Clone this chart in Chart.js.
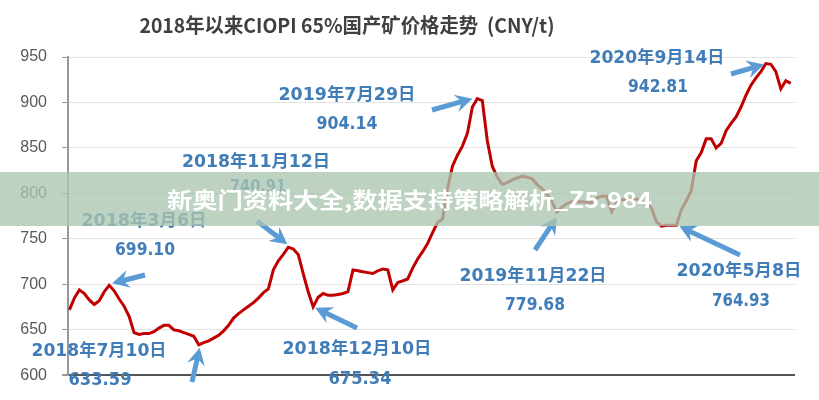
<!DOCTYPE html>
<html>
<head>
<meta charset="utf-8">
<script src="https://cdn.jsdelivr.net/npm/chart.js@4.4.1/dist/chart.umd.min.js"></script>
<style>
  html, body { margin: 0; padding: 0; background: #fff; }
  canvas { display: block; }
</style>
</head>
<body>
<canvas id="priceChart" width="819" height="400"></canvas>
<script>
const titleText = '2018年以来CIOPI 65%国产矿价格走势  (CNY/t)';
const bannerText = '新奥门资料大全,数据支持策略解析_Z5.984';

// weekly CIOPI 65% price, Jan 2018 - Oct 2020
const prices = [
    672, 685, 694, 690, 683, 678, 682, 692, 699.10, 693,
    684, 676, 665, 647, 645, 646, 646, 648, 652, 655,
    655, 650, 649, 647, 645, 643, 633.59, 636, 638, 641,
    644, 649, 655, 663, 668, 672, 676, 680, 685, 691,
    695, 716, 726, 733, 740.91, 739, 733, 712, 692, 675.34,
    686, 690, 688, 688, 689, 690, 692, 716, 715, 714,
    713, 712, 715, 717, 716, 694, 702, 704, 706, 718,
    728, 736, 745, 757, 768, 772, 805, 830, 842, 852,
    866, 895, 904.14, 902, 858, 830, 818, 810, 812, 815,
    817, 819, 818, 816, 810, 805, 799, 791, 779.68, 785,
    789, 791, 791, 791, 790, 790, 795, 797, 797, 780,
    790, 793, 794, 794, 794, 791, 789, 784, 769, 764,
    765, 765, 764.93, 782, 792, 803, 836, 845, 860, 860,
    850, 855, 869, 877, 884, 895, 908, 919, 927, 934,
    942.81, 942, 934, 915, 924, 921
];

// annotated points (week index, date, value)
const noteIdx = [8, 26, 44, 49, 82, 98, 122, 140];
const noteDates = ['2018年3月6日', '2018年7月10日', '2018年11月12日', '2018年12月10日',
    '2019年7月29日', '2019年11月22日', '2020年5月8日', '2020年9月14日'];
const noteVals = ['699.10', '633.59', '740.91', '675.34', '904.14', '779.68', '764.93', '942.81'];

// label placement: [dateCx, dateCy, dateW, valCx, valCy, valW, tailX, tailY, tipDx, tipDy]
const noteLayout = [
    [144, 222, 125, 145, 251, 60, 145, 275, 3, -2],
    [99, 352, 135, 100, 381, 63, 192, 382, 1, 3],
    [256, 163, 148, 258, 188, 56, 257, 221, -1, -3],
    [357, 350, 149, 360, 380, 63, 357, 328, 2, 1],
    [347, 96, 137, 347, 125, 61, 432, 110, -5, 0],
    [533, 277, 147, 535, 306, 60, 535, 250, 0, 5],
    [739, 272, 125, 741, 302, 58, 740, 255, 3, 1],
    [657, 59, 135, 658, 88, 60, 731, 74, -2, 1]
];

function fitText(ctx, text, cx, cy, width) {
    const w = ctx.measureText(text).width;
    ctx.save();
    ctx.translate(cx, cy);
    ctx.scale(width / w, 1);
    ctx.fillText(text, 0, 0);
    ctx.restore();
}

function drawArrow(ctx, x0, y0, x1, y1) {
    const a = Math.atan2(y1 - y0, x1 - x0);
    const c = Math.cos(a), s = Math.sin(a);
    const hl = 17, hw = 9;
    ctx.strokeStyle = '#5b9bd5';
    ctx.fillStyle = '#5b9bd5';
    ctx.lineWidth = 5;
    ctx.beginPath();
    ctx.moveTo(x0, y0);
    ctx.lineTo(x1 - c * hl * 0.6, y1 - s * hl * 0.6);
    ctx.stroke();
    ctx.beginPath();
    ctx.moveTo(x1, y1);
    ctx.lineTo(x1 - c * hl - s * hw, y1 - s * hl + c * hw);
    ctx.lineTo(x1 - c * hl * 0.65, y1 - s * hl * 0.65);
    ctx.lineTo(x1 - c * hl + s * hw, y1 - s * hl - c * hw);
    ctx.closePath();
    ctx.fill();
}

const overlayPlugin = {
    id: 'overlay',
    afterDatasetsDraw(chart) {
        const ctx = chart.ctx;
        const xs = chart.scales.x, ys = chart.scales.y;
        ctx.save();
        ctx.textAlign = 'center';
        ctx.textBaseline = 'middle';

        noteIdx.forEach((idx, i) => {
            const L = noteLayout[i];
            const px = xs.getPixelForValue(idx);
            const py = ys.getPixelForValue(prices[idx]);
            drawArrow(ctx, L[6], L[7], px + L[8], py + L[9]);

            ctx.fillStyle = '#3f7cb8';
            ctx.font = 'bold 17px "DejaVu Sans", "Noto Sans CJK SC", sans-serif';
            fitText(ctx, noteDates[i], L[0], L[1], L[2]);
            fitText(ctx, noteVals[i], L[3], L[4], L[5]);
        });

        // watermark banner
        ctx.fillStyle = 'rgba(170, 197, 176, 0.78)';
        ctx.fillRect(0, 172, 819, 54);
        ctx.fillStyle = '#ffffff';
        ctx.textAlign = 'left';
        ctx.font = 'bold 22px "Noto Sans CJK SC", sans-serif';
        const bw = ctx.measureText(bannerText).width;
        ctx.save();
        ctx.translate(167, 200);
        ctx.scale(485 / bw, 1);
        ctx.fillText(bannerText, 0, 0);
        ctx.restore();

        // title
        ctx.textAlign = 'center';
        ctx.fillStyle = '#404040';
        ctx.font = 'bold 20px "Noto Sans CJK SC", sans-serif';
        fitText(ctx, titleText, 347, 25, 415);
        ctx.restore();
    }
};

new Chart('priceChart', {
    type: 'line',
    data: {
        datasets: [{
            data: prices.map((v, i) => ({ x: i, y: v })),
            borderColor: '#c00000',
            borderWidth: 3,
            pointRadius: 0,
            tension: 0,
            fill: false
        }]
    },
    options: {
        responsive: false,
        animation: false,
        layout: { padding: { top: 57, right: 24, bottom: 10, left: 0 } },
        plugins: {
            legend: { display: false },
            tooltip: { enabled: false }
        },
        scales: {
            x: {
                type: 'linear',
                display: false,
                min: -0.28,
                max: 145.85
            },
            y: {
                min: 600,
                max: 950,
                afterFit: s => { s.width = 68; },
                ticks: {
                    stepSize: 50,
                    padding: 15,
                    color: '#595959',
                    font: { family: '"Liberation Sans", Arial, sans-serif', size: 16 }
                },
                grid: {
                    color: c => c.tick && c.tick.value === 600 ? '#555555' : '#e3e3e3',
                    lineWidth: c => c.tick && c.tick.value === 600 ? 2 : 1,
                    tickLength: 6,
                    tickColor: '#999999'
                },
                border: { color: '#999999', width: 2 }
            }
        }
    },
    plugins: [overlayPlugin]
});
</script>
</body>
</html>
